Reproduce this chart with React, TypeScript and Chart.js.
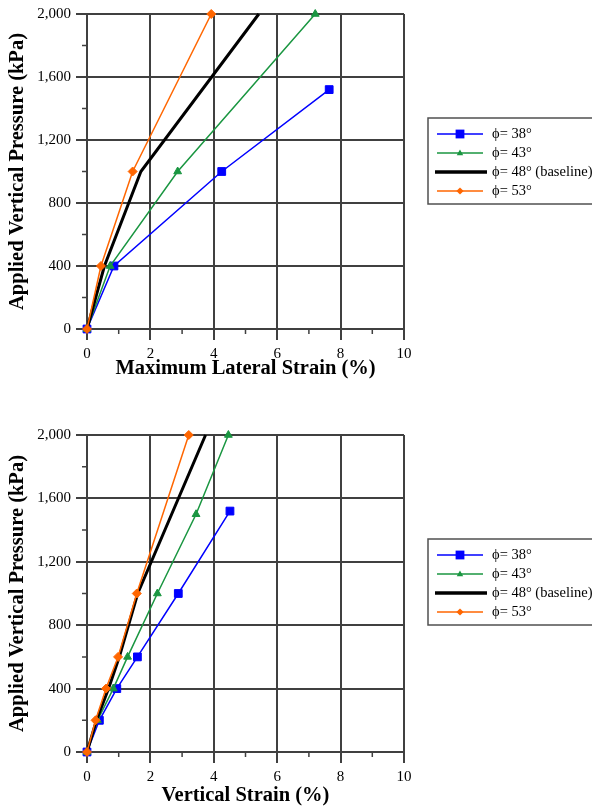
import React, { useEffect, useRef } from 'react';
import { Chart, registerables } from 'chart.js';

Chart.register(...registerables);

// ---------- Data ----------
const seriesLabels = ['ϕ= 38°', 'ϕ= 43°', 'ϕ= 48° (baseline)', 'ϕ= 53°'];

// Top chart: Maximum lateral strain (%) vs applied vertical pressure (kPa)
const topStrain38 = [0, 0.85, 4.25, 7.64];
const topPressure38 = [0, 400, 1000, 1520];
const topStrain43 = [0, 0.73, 2.86, 7.2];
const topPressure43 = [0, 400, 1000, 2000];
const topStrain48 = [0, 0.55, 1.7, 5.42];
const topPressure48 = [0, 400, 1000, 2000];
const topStrain53 = [0, 0.44, 1.44, 3.92];
const topPressure53 = [0, 400, 1000, 2000];

// Bottom chart: Vertical strain (%) vs applied vertical pressure (kPa)
const botStrain38 = [0, 0.39, 0.94, 1.59, 2.88, 4.51];
const botPressure38 = [0, 200, 400, 600, 1000, 1520];
const botStrain43 = [0, 0.33, 0.83, 1.28, 2.22, 3.44, 4.46];
const botPressure43 = [0, 200, 400, 600, 1000, 1500, 2000];
const botStrain48 = [0, 0.3, 0.68, 1.02, 1.6, 3.74];
const botPressure48 = [0, 200, 400, 600, 1000, 2000];
const botStrain53 = [0, 0.27, 0.6, 0.98, 1.57, 3.21];
const botPressure53 = [0, 200, 400, 600, 1000, 2000];

const xAxisMin = 0;
const xAxisMax = 10;
const xMajorStep = 2;
const xMinorStep = 1;
const yAxisMin = 0;
const yAxisMax = 2000;
const yMajorStep = 400;
const yMinorStep = 200;

const topXTitle = 'Maximum Lateral Strain (%)';
const botXTitle = 'Vertical Strain (%)';
const yTitle = 'Applied Vertical Pressure (kPa)';

// ---------- Styles ----------
const FONT = "'Liberation Serif', 'Times New Roman', serif";
const GRID = '#404040';
const seriesStyles = [
  { color: '#0000ff', width: 1.5, pointStyle: 'rect', radius: 5.5, order: 3 },
  { color: '#1a9641', width: 1.5, pointStyle: 'triangle', radius: 4.5, order: 2 },
  { color: '#000000', width: 3, pointStyle: 'circle', radius: 0, order: 1 },
  { color: '#ff6600', width: 1.5, pointStyle: 'rectRot', radius: 4.5, order: 0 },
];

function toPoints(xs: number[], ys: number[]) {
  return xs.map((x, i) => ({ x, y: ys[i] }));
}

const minorTicksPlugin = {
  id: 'minorTicks',
  afterDraw(chart: any) {
    const { ctx, chartArea, scales } = chart;
    const x = scales.x;
    const y = scales.y;
    ctx.save();
    ctx.strokeStyle = GRID;
    ctx.lineWidth = 1.5;
    ctx.beginPath();
    for (let v = yAxisMin + yMinorStep; v < yAxisMax; v += yMajorStep) {
      const py = y.getPixelForValue(v);
      ctx.moveTo(chartArea.left - 5, py);
      ctx.lineTo(chartArea.left, py);
    }
    for (let v = xAxisMin + xMinorStep; v < xAxisMax; v += xMajorStep) {
      const px = x.getPixelForValue(v);
      ctx.moveTo(px, chartArea.bottom);
      ctx.lineTo(px, chartArea.bottom + 5);
    }
    ctx.stroke();
    ctx.restore();
  },
};

function drawMarker(ctx: CanvasRenderingContext2D, style: string, cx: number, cy: number, r: number) {
  ctx.beginPath();
  if (style === 'rect') {
    ctx.rect(cx - r, cy - r, 2 * r, 2 * r);
  } else if (style === 'triangle') {
    ctx.moveTo(cx, cy - r);
    ctx.lineTo(cx + r * 0.9, cy + r * 0.6);
    ctx.lineTo(cx - r * 0.9, cy + r * 0.6);
    ctx.closePath();
  } else if (style === 'rectRot') {
    ctx.moveTo(cx, cy - r);
    ctx.lineTo(cx + r, cy);
    ctx.lineTo(cx, cy + r);
    ctx.lineTo(cx - r, cy);
    ctx.closePath();
  }
  ctx.fill();
}

const boxLegendPlugin = {
  id: 'boxLegend',
  afterDraw(chart: any) {
    const { ctx, chartArea } = chart;
    const left = chartArea.right + 24;
    const top = chartArea.top + 104;
    const height = 86;
    ctx.save();
    ctx.strokeStyle = '#505050';
    ctx.lineWidth = 1.5;
    ctx.strokeRect(left, top, chart.width - left + 10, height);
    const legendMarkerSizes = [4.4, 3.6, 0, 3.6];
    chart.data.datasets.forEach((ds: any, i: number) => {
      const st = seriesStyles[i];
      const rowY = top + 16 + i * 19;
      const isBold = st.width > 2;
      ctx.strokeStyle = st.color;
      ctx.fillStyle = st.color;
      ctx.lineWidth = isBold ? 3.5 : 1.5;
      ctx.beginPath();
      ctx.moveTo(left + (isBold ? 7 : 9), rowY);
      ctx.lineTo(left + (isBold ? 59 : 55), rowY);
      ctx.stroke();
      if (legendMarkerSizes[i] > 0) {
        drawMarker(ctx, st.pointStyle, left + 32, rowY, legendMarkerSizes[i]);
      }
      ctx.fillStyle = '#000';
      ctx.font = `14.5px ${FONT}`;
      ctx.textBaseline = 'middle';
      ctx.textAlign = 'left';
      ctx.fillText(ds.label, left + 64, rowY);
    });
    ctx.restore();
  },
};

function makeConfig(
  strains: number[][],
  pressures: number[][],
  xTitle: string,
  padTop: number,
  padBottom: number,
  xTitlePadBottom: number
): any {
  return {
    type: 'line',
    data: {
      datasets: strains.map((xs, i) => ({
        label: seriesLabels[i],
        data: toPoints(xs, pressures[i]),
        borderColor: seriesStyles[i].color,
        backgroundColor: seriesStyles[i].color,
        borderWidth: seriesStyles[i].width,
        pointStyle: seriesStyles[i].pointStyle,
        pointRadius: seriesStyles[i].radius,
        pointBackgroundColor: seriesStyles[i].color,
        pointBorderColor: seriesStyles[i].color,
        pointBorderWidth: 1,
        tension: 0,
        fill: false,
        clip: false,
        order: seriesStyles[i].order,
      })),
    },
    options: {
      responsive: false,
      animation: false,
      devicePixelRatio: 1,
      layout: { padding: { left: 0, top: padTop, right: 188, bottom: padBottom } },
      plugins: { legend: { display: false }, tooltip: { enabled: false } },
      scales: {
        x: {
          type: 'linear',
          min: xAxisMin,
          max: xAxisMax,
          ticks: {
            stepSize: xMajorStep,
            color: '#000',
            padding: 5,
            font: { family: FONT, size: 15 },
            maxRotation: 0,
          },
          grid: { color: GRID, lineWidth: 2, tickLength: 11, tickColor: GRID },
          border: { display: true, color: GRID, width: 2 },
          title: {
            display: true,
            text: xTitle,
            color: '#000',
            font: { family: FONT, size: 20.5, weight: 'bold', lineHeight: 1 },
            padding: { top: 0, bottom: xTitlePadBottom },
          },
          afterFit: (s: any) => {
            s.height = 53.5;
          },
        },
        y: {
          type: 'linear',
          min: yAxisMin,
          max: yAxisMax,
          ticks: {
            stepSize: yMajorStep,
            color: '#000',
            padding: 5,
            font: { family: FONT, size: 15 },
            callback: (v: number) => v.toLocaleString('en-US'),
          },
          grid: { color: GRID, lineWidth: 2, tickLength: 11, tickColor: GRID },
          border: { display: true, color: GRID, width: 2 },
          title: {
            display: true,
            text: yTitle,
            color: '#000',
            font: { family: FONT, size: 20.5, weight: 'bold', lineHeight: 1 },
            padding: { top: 7, bottom: 0 },
          },
          afterFit: (s: any) => {
            s.width = 87;
          },
        },
      },
    },
    plugins: [minorTicksPlugin, boxLegendPlugin],
  };
}

function ChartCanvas({ config, width, height }: { config: any; width: number; height: number }) {
  const ref = useRef<HTMLCanvasElement | null>(null);
  useEffect(() => {
    if (!ref.current) return;
    const chart = new Chart(ref.current, config);
    return () => chart.destroy();
  }, [config]);
  return <canvas ref={ref} width={width} height={height} style={{ display: 'block', width, height }} />;
}

const topConfig = makeConfig(
  [topStrain38, topStrain43, topStrain48, topStrain53],
  [topPressure38, topPressure43, topPressure48, topPressure53],
  topXTitle,
  13,
  17.5,
  4
);

const botConfig = makeConfig(
  [botStrain38, botStrain43, botStrain48, botStrain53],
  [botPressure38, botPressure43, botPressure48, botPressure53],
  botXTitle,
  35,
  1.5,
  0
);

export default function App() {
  return (
    <div style={{ position: 'fixed', left: 0, top: 0, width: 592, height: 807, background: '#fff', overflow: 'hidden' }}>
      <ChartCanvas config={topConfig} width={592} height={400} />
      <ChartCanvas config={botConfig} width={592} height={407} />
    </div>
  );
}
